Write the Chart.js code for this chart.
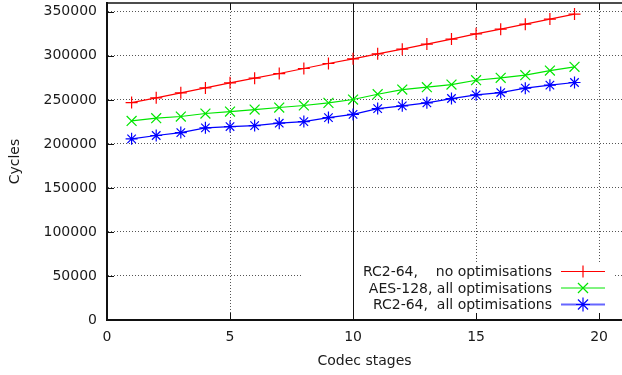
<!DOCTYPE html>
<html>
<head>
<meta charset="utf-8">
<script src="https://cdn.jsdelivr.net/npm/chart.js@4"></script>
<style>
  body { margin: 0; background: #fff; overflow: hidden; }
  canvas { display: block; }
</style>
</head>
<body>
<canvas id="myChart" width="622" height="375"></canvas>
<script>
// data
const stages = [1,2,3,4,5,6,7,8,9,10,11,12,13,14,15,16,17,18,19];
const rc2NoOpt = [246900,252300,258000,263600,269300,274600,279900,285600,291300,296600,302300,307600,313300,319000,325000,330300,336000,341700,347400];
const aesAllOpt = [226100,229200,231100,234500,236700,239000,241300,243600,246600,250400,256400,261700,264400,267400,272300,275000,278000,283300,287500];
const rc2AllOpt = [205700,209500,212800,218200,219700,220800,223500,225300,229900,233500,240100,243200,246600,251500,255700,258300,263300,266700,269700];
const xTicks = [0,5,10,15,20];
const yTicks = [0,50000,100000,150000,200000,250000,300000,350000];
const seriesNames = ["RC2-64,    no optimisations", "AES-128, all optimisations", "RC2-64,  all optimisations"];
const seriesColors = ["#ff0000", "#00e600", "#0000ff"];
const seriesMarks = ["cross", "crossRot", "star"];

const FONT = "DejaVu Sans";
const TXT = "#1a1a1a";

function pts(ys){
  return stages.map((x,i) => ({x: x, y: ys[i]}));
}

function mark(ctx, style, x, y, r){
  ctx.beginPath();
  if (style === "cross" || style === "star") {
    ctx.moveTo(x - r, y); ctx.lineTo(x + r, y);
    ctx.moveTo(x, y - r); ctx.lineTo(x, y + r);
  }
  if (style === "crossRot" || style === "star") {
    const d = r * 0.72;
    ctx.moveTo(x - d, y - d); ctx.lineTo(x + d, y + d);
    ctx.moveTo(x - d, y + d); ctx.lineTo(x + d, y - d);
  }
  ctx.stroke();
}

function noPad(s){
  s.paddingTop = 0; s.paddingBottom = 0; s.paddingLeft = 0; s.paddingRight = 0;
}

// legend box inside plot, gnuplot style
const keyBox = {
  id: "keyBox",
  beforeDatasetsDraw(chart){
    const ctx = chart.ctx, a = chart.chartArea, sx = chart.scales.x, sy = chart.scales.y;
    ctx.save();
    ctx.fillStyle = "#fff";
    ctx.fillRect(302, 262, 311, a.bottom - 1 - 262);
    // solid line at x=10
    ctx.strokeStyle = "#111";
    ctx.lineWidth = 1;
    const x10 = Math.round(sx.getPixelForValue(10)) + 0.5;
    ctx.beginPath(); ctx.moveTo(x10, a.top); ctx.lineTo(x10, a.bottom); ctx.stroke();
    // top border
    ctx.lineWidth = 1.5;
    ctx.beginPath(); ctx.moveTo(a.left, a.top); ctx.lineTo(a.right, a.top); ctx.stroke();
    // inward ticks
    ctx.lineWidth = 1;
    xTicks.forEach(v => {
      const x = Math.round(sx.getPixelForValue(v)) + 0.5;
      ctx.beginPath();
      ctx.moveTo(x, a.bottom); ctx.lineTo(x, a.bottom - 7);
      ctx.moveTo(x, a.top); ctx.lineTo(x, a.top + 7);
      ctx.stroke();
    });
    yTicks.forEach(v => {
      const y = Math.round(sy.getPixelForValue(v)) + 0.5;
      ctx.beginPath(); ctx.moveTo(a.left, y); ctx.lineTo(a.left + 7, y); ctx.stroke();
    });
    ctx.restore();
  },
  afterDatasetsDraw(chart){
    const ctx = chart.ctx;
    const rows = [271.5, 288, 304.5];
    ctx.save();
    ctx.font = "14px '" + FONT + "'";
    ctx.fillStyle = TXT;
    ctx.textAlign = "right";
    ctx.textBaseline = "middle";
    seriesNames.forEach((name, i) => {
      const y = rows[i];
      ctx.fillText(name, 552, y + 1);
      ctx.strokeStyle = seriesColors[i];
      ctx.lineWidth = i === 2 ? 2 : 1;
      ctx.globalAlpha = i === 2 ? 0.6 : 1;
      ctx.beginPath(); ctx.moveTo(561, y); ctx.lineTo(605, y); ctx.stroke();
      ctx.globalAlpha = 1;
      ctx.lineWidth = 1.2;
      mark(ctx, seriesMarks[i], 583, y, i === 0 ? 6 : 7);
    });
    ctx.restore();
  }
};

new Chart("myChart", {
  type: "line",
  data: {
    datasets: [
      { data: pts(rc2NoOpt), borderColor: seriesColors[0], pointStyle: seriesMarks[0], pointRadius: 6 },
      { data: pts(aesAllOpt), borderColor: seriesColors[1], pointStyle: seriesMarks[1], pointRadius: 7 },
      { data: pts(rc2AllOpt), borderColor: seriesColors[2], pointStyle: seriesMarks[2], pointRadius: 6 }
    ].map(d => Object.assign(d, {
      borderWidth: 1.2,
      pointBorderWidth: 1.2,
      pointBorderColor: d.borderColor,
      pointBackgroundColor: d.borderColor,
      fill: false,
      tension: 0
    }))
  },
  options: {
    responsive: false,
    devicePixelRatio: 1,
    animation: false,
    events: [],
    layout: { autoPadding: false, padding: { left: 0, right: 0, top: 3, bottom: 0 } },
    plugins: { legend: { display: false }, tooltip: { enabled: false } },
    scales: {
      x: {
        type: "linear",
        min: 0,
        max: 20.93,
        afterBuildTicks: s => { s.ticks = xTicks.map(v => ({value: v})); },
        afterFit: s => { s.height = 55; noPad(s); },
        grid: { color: "#555", drawTicks: false, lineWidth: 1 },
        border: { color: "#111", width: 2, dash: [1, 2] },
        ticks: { padding: 9, color: TXT, font: { family: FONT, size: 14 }, maxRotation: 0, callback: v => String(v) },
        title: { display: true, text: "Codec stages", color: TXT, font: { family: FONT, size: 14 }, padding: { top: 0, bottom: 5 } }
      },
      y: {
        min: 0,
        max: 360000,
        afterBuildTicks: s => { s.ticks = yTicks.map(v => ({value: v})); },
        afterFit: s => { s.width = 107; noPad(s); },
        grid: { color: "#555", drawTicks: false, lineWidth: 1 },
        border: { color: "#111", width: 2, dash: [1, 2] },
        ticks: { padding: 10, color: TXT, font: { family: FONT, size: 14 }, callback: v => String(v) },
        title: { display: true, text: "Cycles", color: TXT, font: { family: FONT, size: 14 }, padding: { top: 7, bottom: 0 } }
      }
    }
  },
  plugins: [keyBox]
});
</script>
</body>
</html>
